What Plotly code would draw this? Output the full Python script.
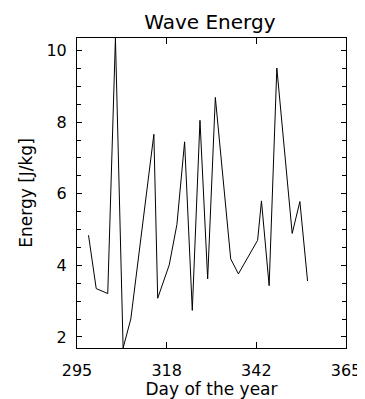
import plotly.graph_objects as go

days = [298, 300, 303, 305, 307, 309, 315, 316, 319, 321, 323, 325, 327, 329,
        331, 335, 337, 342, 343, 345, 347, 351, 353, 355]
energy = [4.84, 3.35, 3.21, 10.35, 1.69, 2.50, 7.66, 3.08, 4.01, 5.14, 7.45, 2.74,
          8.05, 3.62, 8.69, 4.18, 3.76, 4.70, 5.80, 3.43, 9.51, 4.89, 5.78, 3.56]

x_tickvals = [295, 295 + 70 / 3, 295 + 140 / 3, 365]
x_ticktext = ["295", "318", "342", "365"]
y_tickvals = [2, 4, 6, 8, 10]

font_family = "DejaVu Sans ExtraLight, DejaVu Sans"

fig = go.Figure()
fig.add_trace(go.Scatter(x=days, y=energy, mode="lines",
                         line=dict(color="black", width=1), showlegend=False,
                         hoverinfo="skip"))

# the page body adds an 8px offset, so the figure is 8px smaller on each axis
fig.update_layout(
    width=357, height=391,
    margin=dict(l=69, r=19, t=30, b=51, autoexpand=False),
    paper_bgcolor="white", plot_bgcolor="white",
    font=dict(family=font_family, color="black", size=16),
    title=dict(text="Wave Energy", xref="paper", x=0.494, xanchor="center",
               yref="container", y=1 - 14 / 391, yanchor="middle",
               font=dict(size=20, family=font_family, color="black")),
)
fig.update_xaxes(
    range=[295, 365], tickvals=x_tickvals, ticktext=x_ticktext,
    ticks="inside", ticklen=6, tickwidth=1, tickcolor="black",
    showline=True, linecolor="black", linewidth=1, mirror="ticks",
    showgrid=False, zeroline=False, automargin=False,
    ticklabelstandoff=8,
    title=dict(text="Day of the year", standoff=4, font=dict(size=17)),
    tickfont=dict(size=16),
)
fig.update_yaxes(
    range=[1.69, 10.35], tickvals=y_tickvals,
    ticks="inside", ticklen=5, tickwidth=1, tickcolor="black",
    minor=dict(dtick=0.5, tick0=0, ticks="inside", ticklen=4, tickcolor="black",
               tickwidth=1, showgrid=False),
    showline=True, linecolor="black", linewidth=1, mirror="ticks",
    showgrid=False, zeroline=False, automargin=False,
    ticklabelstandoff=6,
    title=dict(text="Energy [J/kg]", standoff=9, font=dict(size=17)),
    tickfont=dict(size=16),
)

fig.write_html("out.html")
